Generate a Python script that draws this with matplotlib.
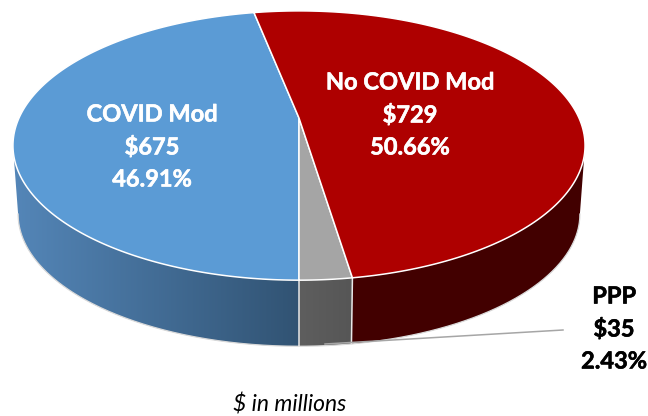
#!/usr/bin/env python3

import numpy as np
import matplotlib
matplotlib.use("Agg")
import matplotlib.pyplot as plt
import matplotlib.patheffects as pe
from matplotlib.colors import LinearSegmentedColormap
from matplotlib.patches import Polygon

# === DATA ===
NAMES = ['COVID Mod', 'PPP', 'No COVID Mod']
VALUES = [675, 35, 729]
PERCENTS = ['46.91%', '2.43%', '50.66%']

# === STYLE ===
TOP_COLORS = ['#5b9bd5', '#a5a5a5', '#ae0000']
WALL_COLORS = [('#5486b8', '#315373'), ('#5e5e5e', '#565656'), ('#430000', '#420000')]
LABEL_POS = [(152, 114), (614, 296), (410, 82)]
LABEL_COLORS = ['white', 'black', 'white']
LINE_STEP = 32.5

# pie geometry in pixels, k is the perspective of the tilted disc
CENTER_X = 299
TOP_Y = 118
BOTTOM_Y = 187
RX = 280
RY = 129
BOTTOM_SCALE = 0.982
K = 0.2045


def project(theta, cy, scale=1.0):
    d = 1 + K * np.sin(theta)
    return np.column_stack((CENTER_X + scale * RX * np.cos(theta) / d,
                            cy - scale * RY * np.sin(theta) / d))


plt.rcParams['font.family'] = ['Lato', 'DejaVu Sans']

fig = plt.figure(figsize=(6.48, 4.16), dpi=100)
ax = fig.add_axes([0, 0, 1, 1])

# COVID Mod goes clockwise from the bottom, the others counter-clockwise
fractions = np.array(VALUES) / sum(VALUES)
bottom = -np.pi / 2
starts = [bottom, bottom, bottom + 2 * np.pi * fractions[1]]
ends = [bottom - 2 * np.pi * fractions[0],
        bottom + 2 * np.pi * fractions[1],
        bottom + 2 * np.pi * (fractions[1] + fractions[2])]

# where the disc outline is widest, the wall is only seen between these
left_limit = -np.pi + np.arcsin(K)
right_limit = -np.arcsin(K)

# === WALLS ===
for i in range(3):
    a, b = sorted((starts[i], ends[i]))
    t = np.linspace(max(a, left_limit), min(b, right_limit), 200)
    upper = project(t, TOP_Y)
    lower = project(t[::-1], BOTTOM_Y, BOTTOM_SCALE)
    pts = np.vstack((upper, lower))
    poly = Polygon(pts, closed=True, facecolor='none', edgecolor='none')
    ax.add_patch(poly)
    cmap = LinearSegmentedColormap.from_list('wall%d' % i, WALL_COLORS[i], N=256)
    im = ax.imshow(np.linspace(0, 1, 256).reshape(1, -1), cmap=cmap, aspect='auto',
                   extent=(pts[:, 0].min(), pts[:, 0].max(), pts[:, 1].max(), pts[:, 1].min()),
                   zorder=1)
    im.set_clip_path(poly)
    ax.plot(lower[:, 0], lower[:, 1], color='#d9d9d9', lw=0.9, zorder=2)

# dividers between the wall pieces
for t in [bottom, ends[1]]:
    p = np.vstack((project(np.array([t]), TOP_Y), project(np.array([t]), BOTTOM_Y, BOTTOM_SCALE)))
    ax.plot(p[:, 0], p[:, 1], color='#e8e8e8', lw=1.1, zorder=2)

# === TOP FACES ===
for i in range(3):
    arc = project(np.linspace(starts[i], ends[i], 200), TOP_Y)
    ax.add_patch(Polygon(np.vstack(([CENTER_X, TOP_Y], arc)), closed=True, facecolor=TOP_COLORS[i],
                         edgecolor='white', lw=1.1, joinstyle='round', zorder=3))

# === LEADER LINE ===
ax.plot([325, 563], [344, 330], color='#a6a6a6', lw=1.1, zorder=4)

# === LABELS ===
for name, value, pct, pos, col in zip(NAMES, VALUES, PERCENTS, LABEL_POS, LABEL_COLORS):
    for j, s in enumerate([name, '\\$%d' % value, pct]):
        txt = ax.text(pos[0], pos[1] + j * LINE_STEP, s, color=col, fontsize=17,
                      fontweight='bold', ha='center', va='center', zorder=5)
        txt.set_path_effects([pe.withStroke(linewidth=0.4, foreground=col)])

ax.text(290, 405, '\\$ in millions', color='black', fontsize=16.5, style='italic',
        ha='center', va='center')

ax.set_xlim(0, 648)
ax.set_ylim(416, 0)
ax.axis('off')

fig.savefig('out.png', dpi=100)
